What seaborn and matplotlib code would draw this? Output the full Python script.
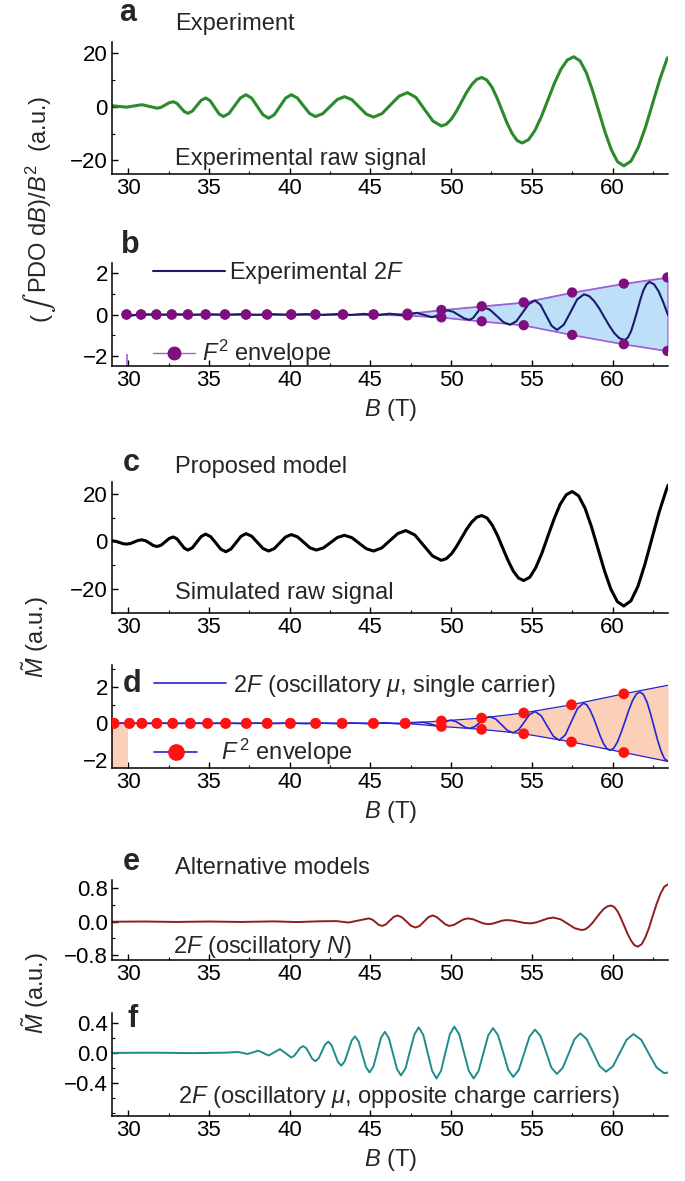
import matplotlib
matplotlib.use("Agg")
import matplotlib.pyplot as plt
import seaborn as sns
import numpy as np
from matplotlib.lines import Line2D
from matplotlib.ticker import MultipleLocator

# ============================================================================
# DATA
# ============================================================================

XTICKS = [30, 35, 40, 45, 50, 55, 60]
XLIM = (29.0, 63.45)

# panel a: experimental raw signal (B, value)
CURVE_A = np.array([
    [29.0, 0.3], [29.45, 0.05], [29.9, -0.2], [30.38, 0.25], [30.85, 0.7],
    [31.33, 0.05], [31.8, -0.6], [32.05, -0.25], [32.3, 0.6], [32.55, 1.45],
    [32.8, 1.8], [33.03, 1.17], [33.25, -0.35], [33.48, -1.87], [33.7, -2.5],
    [33.98, -1.66], [34.25, 0.35], [34.53, 2.36], [34.8, 3.2], [35.08, 2.19],
    [35.35, -0.25], [35.63, -2.69], [35.9, -3.7], [36.25, -2.51], [36.6, 0.35],
    [36.95, 3.21], [37.3, 4.4], [37.65, 3.13], [38.0, 0.05], [38.35, -3.03],
    [38.7, -4.3], [39.05, -3.03], [39.4, 0.05], [39.75, 3.13], [40.1, 4.4],
    [40.48, 3.21], [40.85, 0.35], [41.23, -2.51], [41.6, -3.7], [42.05, -2.62],
    [42.5, 0.0], [42.95, 2.62], [43.4, 3.7], [43.85, 2.59], [44.3, -0.1],
    [44.75, -2.79], [45.2, -3.9], [45.73, -2.57], [46.25, 0.65], [46.78, 3.87],
    [47.3, 5.2], [47.83, 3.38], [48.35, -1.0], [48.88, -5.38], [49.4, -7.2],
    [49.71, -6.52], [50.03, -4.56], [50.34, -1.65], [50.65, 1.8], [50.96, 5.25],
    [51.28, 8.16], [51.59, 10.12], [51.9, 10.8], [52.21, 9.88], [52.53, 7.24],
    [52.84, 3.3], [53.15, -1.35], [53.46, -6.0], [53.78, -9.94], [54.09, -12.58],
    [54.4, -13.5], [54.8, -12.28], [55.2, -8.81], [55.6, -3.63], [56.0, 2.5],
    [56.4, 8.63], [56.8, 13.81], [57.2, 17.28], [57.6, 18.5], [57.99, 16.96],
    [58.38, 12.57], [58.76, 6.0], [59.15, -1.75], [59.54, -9.5], [59.93, -16.07],
    [60.31, -20.46], [60.7, -22.0], [61.15, -20.21], [61.6, -15.1], [62.05, -7.5],
    [62.5, 1.5], [62.95, 10.5], [63.4, 18.1],
])

# panel b: experimental 2F and the F^2 envelope
CURVE_B = np.array([
    [30.0, -0.08], [30.5, -0.02], [31.0, 0.01], [32.0, -0.01], [33.0, 0.01],
    [34.0, -0.01], [35.0, 0.01], [36.0, -0.01], [37.0, 0.015], [38.0, -0.015],
    [39.0, 0.015], [40.0, -0.015], [41.0, 0.02], [42.0, -0.02], [43.0, 0.025],
    [43.8, -0.025], [44.6, 0.03], [45.4, -0.035], [46.2, 0.04], [47.0, -0.04],
    [47.9, 0.08], [48.35, -0.025], [48.8, -0.13], [49.05, -0.08], [49.3, 0.035],
    [49.55, 0.15], [49.8, 0.2], [50.14, 0.13], [50.48, -0.03], [50.81, -0.19],
    [51.15, -0.26], [51.36, -0.17], [51.58, 0.05], [51.79, 0.27], [52.0, 0.36],
    [52.41, 0.23], [52.83, -0.07], [53.24, -0.37], [53.65, -0.5], [54.04, -0.33],
    [54.43, 0.09], [54.81, 0.51], [55.2, 0.68], [55.54, 0.47], [55.88, -0.035],
    [56.22, -0.54], [56.56, -0.75], [56.98, -0.5], [57.4, 0.115], [57.81, 0.73],
    [58.23, 0.98], [58.55, 0.896], [58.86, 0.655], [59.18, 0.295], [59.49, -0.13],
    [59.81, -0.555], [60.12, -0.915], [60.43, -1.156], [60.75, -1.24], [60.94, -1.133],
    [61.14, -0.83], [61.33, -0.37], [61.53, 0.17], [61.72, 0.71], [61.91, 1.17],
    [62.11, 1.473], [62.3, 1.58], [62.58, 1.46], [62.86, 1.12], [63.14, 0.6],
    [63.44, -0.03],
])
ENV_B_X = [29.9, 30.8, 31.75, 32.7, 33.7, 34.8, 36.0, 37.3, 38.6, 40.1,
           41.6, 43.3, 45.2, 47.3, 49.4, 51.9, 54.5, 57.5, 60.7, 63.4]
ENV_B_UP = [0, 0, 0, 0, 0, 0, 0, 0, 0, 0,
            0, 0, 0.01, 0.04, 0.22, 0.40, 0.59, 1.07, 1.50, 1.80]
ENV_B_LO = [0, 0, 0, 0, 0, 0, 0, 0, 0, 0,
            0, 0, -0.01, -0.04, -0.14, -0.33, -0.52, -0.99, -1.44, -1.77]
STUB_B = [29.95, -2.5, -1.9]   # small purple stub at the lower left of panel b

# panel c: simulated raw signal
CURVE_C = np.array([
    [29.0, 0.3], [29.23, 0.09], [29.45, -0.4], [29.68, -0.89], [29.9, -1.1],
    [30.14, -0.84], [30.38, -0.2], [30.61, 0.44], [30.85, 0.7], [31.09, 0.29],
    [31.33, -0.7], [31.56, -1.69], [31.8, -2.1], [32.05, -1.51], [32.3, -0.1],
    [32.55, 1.31], [32.8, 1.9], [33.03, 1.09], [33.25, -0.85], [33.48, -2.79],
    [33.7, -3.6], [33.98, -2.62], [34.25, -0.25], [34.53, 2.12], [34.8, 3.1],
    [35.11, 2.02], [35.43, -0.6], [35.74, -3.22], [36.05, -4.3], [36.36, -3.19],
    [36.68, -0.5], [36.99, 2.19], [37.3, 3.3], [37.65, 2.23], [38.0, -0.35],
    [38.35, -2.93], [38.7, -4.0], [39.05, -2.99], [39.4, -0.55], [39.75, 1.89],
    [40.1, 2.9], [40.49, 1.95], [40.88, -0.35], [41.26, -2.65], [41.65, -3.6],
    [42.09, -2.69], [42.53, -0.5], [42.96, 1.69], [43.4, 2.6], [43.85, 1.63],
    [44.3, -0.7], [44.75, -3.03], [45.2, -4.0], [45.7, -2.74], [46.2, 0.3],
    [46.7, 3.34], [47.2, 4.6], [47.75, 2.77], [48.3, -1.65], [48.85, -6.07],
    [49.4, -7.9], [49.71, -7.19], [50.03, -5.15], [50.34, -2.1], [50.65, 1.5],
    [50.96, 5.1], [51.28, 8.15], [51.59, 10.19], [51.9, 10.9], [52.23, 9.86],
    [52.55, 6.9], [52.88, 2.47], [53.2, -2.75], [53.53, -7.97], [53.85, -12.4],
    [54.18, -15.36], [54.5, -16.4], [54.88, -14.98], [55.25, -10.92], [55.63, -4.86],
    [56.0, 2.3], [56.38, 9.46], [56.75, 15.52], [57.13, 19.58], [57.5, 21.0],
    [57.9, 19.17], [58.3, 13.95], [58.7, 6.15], [59.1, -3.05], [59.5, -12.25],
    [59.9, -20.05], [60.3, -25.27], [60.7, -27.1], [61.14, -24.93], [61.58, -18.74],
    [62.01, -9.48], [62.45, 1.45], [62.89, 12.38], [63.33, 21.64], [63.45, 23.75],
])

# panel d: 2F (oscillatory mu, single carrier) and F^2 envelope
CURVE_D = np.array([
    [29.0, 0.0], [30.0, 0.01], [31.0, -0.01], [32.0, 0.01], [33.0, -0.01],
    [34.0, 0.01], [35.0, -0.01], [36.0, 0.01], [37.0, -0.01], [38.0, 0.01],
    [39.0, -0.01], [40.0, 0.015], [41.0, -0.015], [42.0, 0.015], [43.0, -0.02],
    [44.0, 0.02], [45.0, -0.025], [45.9, 0.03], [46.8, -0.03], [47.6, 0.04],
    [48.3, 0.06], [48.7, -0.035], [49.1, -0.13], [49.33, -0.09], [49.55, 0.02],
    [49.78, 0.13], [50.0, 0.17], [50.29, 0.104], [50.58, -0.055], [50.86, -0.214],
    [51.15, -0.28], [51.46, -0.185], [51.78, 0.045], [52.09, 0.275], [52.4, 0.37],
    [52.76, 0.24], [53.13, -0.075], [53.49, -0.39], [53.85, -0.52], [54.19, -0.35],
    [54.53, 0.065], [54.86, 0.48], [55.2, 0.65], [55.58, 0.42], [55.95, -0.14],
    [56.33, -0.7], [56.7, -0.93], [57.08, -0.63], [57.45, 0.09], [57.83, 0.81],
    [58.2, 1.11], [58.41, 1.01], [58.61, 0.73], [58.82, 0.31], [59.03, -0.185],
    [59.23, -0.68], [59.44, -1.1], [59.64, -1.38], [59.85, -1.48], [60.08, -1.36],
    [60.31, -1.01], [60.54, -0.49], [60.78, 0.12], [61.01, 0.73], [61.24, 1.25],
    [61.47, 1.6], [61.7, 1.72], [61.92, 1.575], [62.14, 1.16], [62.35, 0.545],
    [62.57, -0.185], [62.79, -0.915], [63.01, -1.53], [63.22, -1.945], [63.44, -2.09],
])
DOT_D_X = [29.13, 30.08, 30.85, 31.78, 32.76, 33.85, 34.92, 36.04, 37.32, 38.61,
           40.05, 41.61, 43.25, 45.19, 47.16, 49.4, 51.89, 54.5, 57.46, 60.7]
DOT_D_UP = [0, 0, 0, 0, 0, 0, 0, 0, 0, 0,
            0, 0, 0, 0, 0, 0.13, 0.29, 0.57, 1.02, 1.62]
DOT_D_LO = [0, 0, 0, 0, 0, 0, 0, 0, 0, 0,
            0, 0, 0, 0, 0, -0.17, -0.33, -0.57, -1.02, -1.60]
ENV_D_X = DOT_D_X + [63.44]
ENV_D_UP = DOT_D_UP + [2.09]
ENV_D_LO = DOT_D_LO + [-2.09]
PATCH_D = [29.0, 30.0, -2.45, 0.0]   # small peach block at the lower left of panel d

# panel e: 2F (oscillatory N)
CURVE_E = np.array([
    [29.0, 0.0], [31.0, 0.005], [33.0, -0.005], [35.0, 0.005], [37.0, -0.005],
    [39.0, 0.008], [40.5, -0.008], [41.8, 0.01], [42.9, 0.015], [43.65, -0.02],
    [44.28, 0.03], [44.9, 0.08], [45.11, 0.054], [45.32, -0.01], [45.52, -0.074],
    [45.73, -0.1], [45.97, -0.063], [46.2, 0.025], [46.44, 0.113], [46.67, 0.15],
    [46.95, 0.108], [47.24, 0.005], [47.52, -0.098], [47.8, -0.14], [48.06, -0.098],
    [48.33, 0.005], [48.59, 0.108], [48.85, 0.15], [49.11, 0.113], [49.38, 0.025],
    [49.64, -0.063], [49.9, -0.1], [50.19, -0.074], [50.47, -0.01], [50.76, 0.054],
    [51.04, 0.08], [51.36, 0.059], [51.67, 0.01], [51.99, -0.039], [52.3, -0.06],
    [52.59, -0.045], [52.87, -0.01], [53.16, 0.025], [53.44, 0.04], [53.81, 0.028],
    [54.17, 0.0], [54.54, -0.028], [54.9, -0.04], [55.26, -0.019], [55.63, 0.03],
    [55.99, 0.079], [56.35, 0.1], [56.79, 0.056], [57.23, -0.05], [57.66, -0.156],
    [58.1, -0.2], [58.33, -0.178], [58.55, -0.114], [58.78, -0.018], [59.0, 0.095],
    [59.23, 0.208], [59.45, 0.304], [59.68, 0.368], [59.9, 0.39], [60.11, 0.352],
    [60.32, 0.245], [60.52, 0.085], [60.73, -0.105], [60.94, -0.295], [61.15, -0.455],
    [61.35, -0.562], [61.56, -0.6], [61.8, -0.543], [62.03, -0.38], [62.27, -0.137],
    [62.5, 0.15], [62.74, 0.437], [62.98, 0.68], [63.21, 0.843], [63.45, 0.9],
])

# panel f: 2F (oscillatory mu, opposite charge carriers)
CURVE_F = np.array([
    [29.0, 0.0], [31.5, 0.003], [34.0, -0.003], [36.0, 0.003], [36.8, 0.012],
    [37.1, 0.0], [37.4, -0.015], [37.73, 0.007], [38.05, 0.03], [38.38, -0.002],
    [38.7, -0.035], [39.05, 0.008], [39.4, 0.05], [39.75, -0.005], [40.1, -0.06],
    [40.29, -0.038], [40.48, 0.015], [40.66, 0.068], [40.85, 0.09], [41.04, 0.061],
    [41.23, -0.01], [41.41, -0.081], [41.6, -0.11], [41.8, -0.072], [42.0, 0.02],
    [42.2, 0.112], [42.4, 0.15], [42.6, 0.103], [42.8, -0.01], [43.0, -0.123],
    [43.2, -0.17], [43.41, -0.113], [43.63, 0.025], [43.84, 0.163], [44.05, 0.22],
    [44.28, 0.15], [44.5, -0.02], [44.73, -0.19], [44.95, -0.26], [45.19, -0.181],
    [45.43, 0.01], [45.66, 0.201], [45.9, 0.28], [46.15, 0.195], [46.4, -0.01],
    [46.65, -0.215], [46.9, -0.3], [47.18, -0.206], [47.45, 0.02], [47.73, 0.246],
    [48.0, 0.34], [48.28, 0.24], [48.55, 0.0], [48.83, -0.24], [49.1, -0.34],
    [49.38, -0.239], [49.65, 0.005], [49.93, 0.249], [50.2, 0.35], [50.5, 0.249],
    [50.8, 0.005], [51.1, -0.239], [51.4, -0.34], [51.7, -0.242], [52.0, -0.005],
    [52.3, 0.232], [52.6, 0.33], [52.91, 0.235], [53.23, 0.005], [53.54, -0.225],
    [53.85, -0.32], [54.19, -0.228], [54.53, -0.005], [54.86, 0.218], [55.2, 0.31],
    [55.54, 0.224], [55.88, 0.015], [56.21, -0.194], [56.55, -0.28], [56.91, -0.201],
    [57.28, -0.01], [57.64, 0.181], [58.0, 0.26], [58.4, 0.185], [58.8, 0.005],
    [59.2, -0.175], [59.6, -0.25], [60.03, -0.177], [60.45, 0.0], [60.88, 0.177],
    [61.3, 0.25], [61.78, 0.174], [62.25, -0.01], [62.73, -0.194], [63.2, -0.27],
    [63.45, -0.26],
])

YTICKS_A = [-20, 0, 20]
YTICKS_B = [-2, 0, 2]
YTICKS_C = [-20, 0, 20]
YTICKS_D = [-2, 0, 2]
YTICKS_E = [-0.8, 0.0, 0.8]
YTICKS_F = [-0.4, 0.0, 0.4]

# colours
GREEN = '#2b8a2b'
NAVY = '#1b1b6b'
PURPLE = '#7f0f7f'
ENV_PURPLE = '#a060d8'
LIGHTBLUE = '#bddff8'
BLUE = '#2424d6'
RED = '#ff1212'
PEACH = '#fbd0b8'
DARKRED = '#8e1d1d'
TEAL = '#1f8c8c'

# ============================================================================
# STYLE
# ============================================================================

sns.set_style("ticks")
plt.rcParams['font.family'] = ['Liberation Sans', 'DejaVu Sans']
plt.rcParams.update({
    'mathtext.fontset': 'custom',
    'mathtext.rm': 'Liberation Sans',
    'mathtext.it': 'Liberation Sans:italic',
    'mathtext.bf': 'Liberation Sans:bold',
    'axes.edgecolor': 'black',
    'axes.linewidth': 1.1,
    'xtick.color': 'black', 'ytick.color': 'black',
    'xtick.direction': 'in', 'ytick.direction': 'in',
    'xtick.major.size': 4, 'ytick.major.size': 4,
    'xtick.minor.size': 2.5, 'ytick.minor.size': 2.5,
    'xtick.major.width': 1, 'ytick.major.width': 1,
    'xtick.minor.width': 0.8, 'ytick.minor.width': 0.8,
    'xtick.major.pad': 3, 'ytick.major.pad': 3,
    'xtick.labelsize': 16, 'ytick.labelsize': 16,
})

TXT = 17
LETTER = 22

fig = plt.figure(figsize=(6.85, 11.81), dpi=100)

L, W = 0.1635, 0.812
ax_a = fig.add_axes([L, 0.8527, W, 0.1118])
ax_b = fig.add_axes([L, 0.6901, W, 0.0872])
ax_c = fig.add_axes([L, 0.4810, W, 0.1109])
ax_d = fig.add_axes([L, 0.3497, W, 0.0872])
ax_e = fig.add_axes([L, 0.1871, W, 0.0677])
ax_f = fig.add_axes([L, 0.0550, W, 0.0872])


def setup(ax, yticks, yminor, ylim):
    ax.set_xlim(*XLIM)
    ax.set_ylim(*ylim)
    ax.set_xticks(XTICKS)
    ax.xaxis.set_minor_locator(MultipleLocator(2.5))
    ax.set_yticks(yticks)
    ax.yaxis.set_minor_locator(MultipleLocator(yminor))
    ax.set_xlabel('')
    ax.set_ylabel('')
    sns.despine(ax=ax)


def label(ax, x, y, s, bold=False):
    ax.text(x, y, s, transform=ax.transAxes, va='baseline', ha='left',
            fontsize=LETTER if bold else TXT,
            fontweight='bold' if bold else 'normal')


# ---------------- panel a ----------------
sns.lineplot(x=CURVE_A[:, 0], y=CURVE_A[:, 1], ax=ax_a, color=GREEN, lw=2.2,
             sort=False, estimator=None)
setup(ax_a, YTICKS_A, 10, (-25, 24))
label(ax_a, 0.012, 1.16, 'a', bold=True)
label(ax_a, 0.113, 1.09, 'Experiment')
label(ax_a, 0.113, 0.07, 'Experimental raw signal')

# ---------------- panel b ----------------
ax_b.fill_between(ENV_B_X, ENV_B_LO, ENV_B_UP, facecolor=LIGHTBLUE,
                  edgecolor=ENV_PURPLE, lw=0.9, zorder=1)
sns.lineplot(x=ENV_B_X, y=ENV_B_UP, ax=ax_b, color=ENV_PURPLE, lw=0.9, zorder=2)
sns.lineplot(x=ENV_B_X, y=ENV_B_LO, ax=ax_b, color=ENV_PURPLE, lw=0.9, zorder=2)
sns.lineplot(x=CURVE_B[:, 0], y=CURVE_B[:, 1], ax=ax_b, color=NAVY, lw=1.5,
             sort=False, estimator=None, zorder=3)
sns.scatterplot(x=ENV_B_X + ENV_B_X, y=ENV_B_UP + ENV_B_LO, ax=ax_b, s=55,
                color=PURPLE, edgecolor='none', zorder=4, legend=False)
ax_b.vlines(STUB_B[0], STUB_B[1], STUB_B[2], color=ENV_PURPLE, lw=1.2)
setup(ax_b, YTICKS_B, 1, (-2.5, 2.5))
ax_b.set_xlabel(r'$B$ (T)', fontsize=TXT, labelpad=4)
label(ax_b, 0.017, 1.10, 'b', bold=True)
leg = ax_b.legend(handles=[Line2D([], [], color=NAVY, lw=1.5)],
                  labels=['Experimental 2$F$'], loc='center left',
                  bbox_to_anchor=(0.073, 0.9), frameon=False, borderpad=0,
                  borderaxespad=0, handlelength=3.05, handletextpad=0.2,
                  fontsize=TXT)
ax_b.add_artist(leg)
ax_b.legend(handles=[Line2D([], [], color=ENV_PURPLE, lw=1, marker='o', ms=9,
                            mfc=PURPLE, mec=PURPLE)],
            labels=[r'$F^2$ envelope'], loc='center left',
            bbox_to_anchor=(0.073, 0.126), frameon=False, borderpad=0,
            borderaxespad=0, handlelength=1.8, handletextpad=0.3, fontsize=TXT)

# ---------------- panel c ----------------
sns.lineplot(x=CURVE_C[:, 0], y=CURVE_C[:, 1], ax=ax_c, color='black', lw=2.2,
             sort=False, estimator=None)
setup(ax_c, YTICKS_C, 10, (-30, 25))
label(ax_c, 0.02, 1.08, 'c', bold=True)
label(ax_c, 0.113, 1.07, 'Proposed model')
label(ax_c, 0.113, 0.107, 'Simulated raw signal')

# ---------------- panel d ----------------
ax_d.fill_between(ENV_D_X, ENV_D_LO, ENV_D_UP, facecolor=PEACH, lw=0, zorder=1)
ax_d.fill_between(PATCH_D[:2], PATCH_D[2], PATCH_D[3], facecolor=PEACH, lw=0, zorder=1)
sns.lineplot(x=ENV_D_X, y=ENV_D_UP, ax=ax_d, color=BLUE, lw=0.9, zorder=2)
sns.lineplot(x=ENV_D_X, y=ENV_D_LO, ax=ax_d, color=BLUE, lw=0.9, zorder=2)
sns.lineplot(x=CURVE_D[:, 0], y=CURVE_D[:, 1], ax=ax_d, color=BLUE, lw=1.2,
             sort=False, estimator=None, zorder=3)
sns.scatterplot(x=DOT_D_X + DOT_D_X, y=DOT_D_UP + DOT_D_LO, ax=ax_d, s=60,
                color=RED, edgecolor='none', zorder=4, legend=False)
setup(ax_d, YTICKS_D, 1, (-2.45, 3.2))
ax_d.set_xlabel(r'$B$ (T)', fontsize=TXT, labelpad=4)
label(ax_d, 0.02, 0.74, 'd', bold=True)
leg = ax_d.legend(handles=[Line2D([], [], color=BLUE, lw=1.2)],
                  labels=[r'2$F$ (oscillatory $\mu$, single carrier)'],
                  loc='center left', bbox_to_anchor=(0.075, 0.80),
                  frameon=False, borderpad=0, borderaxespad=0,
                  handlelength=3.05, handletextpad=0.3, fontsize=TXT)
ax_d.add_artist(leg)
ax_d.legend(handles=[Line2D([], [], color=BLUE, lw=1.2, marker='o', ms=11,
                            mfc=RED, mec=RED)],
            labels=[r'$F^{\,2}$ envelope'], loc='center left',
            bbox_to_anchor=(0.075, 0.156), frameon=False, borderpad=0,
            borderaxespad=0, handlelength=1.85, handletextpad=1.0, fontsize=TXT)

# ---------------- panel e ----------------
sns.lineplot(x=CURVE_E[:, 0], y=CURVE_E[:, 1], ax=ax_e, color=DARKRED, lw=1.4,
             sort=False, estimator=None)
setup(ax_e, YTICKS_E, 0.4, (-0.92, 1.0))
label(ax_e, 0.02, 1.12, 'e', bold=True)
label(ax_e, 0.113, 1.07, 'Alternative models')
label(ax_e, 0.11, 0.09, r'2$F$ (oscillatory $N$)')

# ---------------- panel f ----------------
sns.lineplot(x=CURVE_F[:, 0], y=CURVE_F[:, 1], ax=ax_f, color=TEAL, lw=1.4,
             sort=False, estimator=None)
setup(ax_f, YTICKS_F, 0.2, (-0.84, 0.53))
ax_f.set_xlabel(r'$B$ (T)', fontsize=TXT, labelpad=4)
label(ax_f, 0.027, 0.864, 'f', bold=True)
label(ax_f, 0.119, 0.126, r'2$F$ (oscillatory $\mu$, opposite charge carriers)')

# ---------------- shared y labels ----------------
# the first one is built from pieces so the integral sign can be taller
renderer = fig.canvas.get_renderer()
y_pos = 0.728
for piece, size, mathfam in [('(', TXT, 'custom'),
                             (r'$\int$', 21, 'stix'),
                             (r'PDO d$B$)/$B^2$  (a.u.)', TXT, 'custom')]:
    t = fig.text(0.068, y_pos, piece, rotation=90, rotation_mode='anchor',
                 ha='left', va='baseline', fontsize=size,
                 math_fontfamily=mathfam)
    y_pos += t.get_window_extent(renderer).height / fig.bbox.height

fig.text(0.051, 0.461, r'$\tilde{M}$ (a.u.)', rotation=90,
         ha='center', va='center', fontsize=TXT)
fig.text(0.051, 0.159, r'$\tilde{M}$ (a.u.)', rotation=90,
         ha='center', va='center', fontsize=TXT)

fig.savefig('out.png', dpi=100)
